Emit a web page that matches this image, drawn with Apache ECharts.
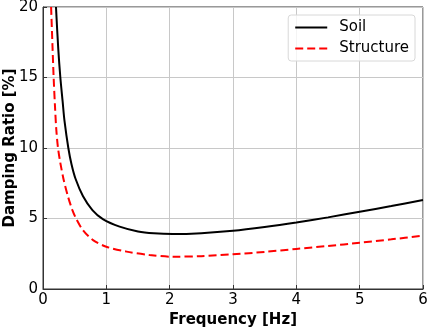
<!DOCTYPE html>
<html><head><meta charset="utf-8">
<script src="https://cdn.jsdelivr.net/npm/echarts@6/dist/echarts.min.js"></script>
<style>html,body{margin:0;padding:0;background:#fff}#c{width:429px;height:329px}</style>
</head><body><div id="c"></div>
<script>
const xTicks = [0, 1, 2, 3, 4, 5, 6];
const yTicks = [0, 5, 10, 15, 20];
const soilFreq = [0.205, 0.24, 0.274, 0.31, 0.34, 0.40, 0.45, 0.515, 0.63, 0.78, 0.945, 1.21, 1.5, 1.75, 2.05, 2.5, 3.0, 3.5, 4.0, 4.5, 5.0, 5.5, 6.0];
const soilDamp = [20.0, 17.1, 15.0, 13.3, 11.9, 10.0, 8.85, 7.8, 6.6, 5.6, 4.96, 4.42, 4.08, 3.95, 3.9, 3.96, 4.13, 4.4, 4.72, 5.08, 5.48, 5.88, 6.31];
const structFreq = [0.128, 0.15, 0.168, 0.19, 0.21, 0.237, 0.275, 0.327, 0.395, 0.464, 0.527, 0.63, 0.79, 1.0, 1.32, 1.68, 2.05, 2.5, 3.0, 3.5, 4.0, 4.5, 5.0, 5.5, 6.0];
const structDamp = [20.0, 17.2, 15.0, 12.9, 11.3, 10.0, 8.91, 7.73, 6.55, 5.6, 4.96, 4.18, 3.47, 3.0, 2.65, 2.41, 2.29, 2.33, 2.46, 2.63, 2.84, 3.05, 3.28, 3.52, 3.78];

const font = 'DejaVu Sans';
const chart = echarts.init(document.getElementById('c'), null, {renderer: 'canvas'});
const zip = (a, b) => a.map((v, i) => [v, b[i]]);
chart.setOption({
  animation: false,
  grid: {left: 43, right: 6, top: 7, bottom: 40, containLabel: false, outerBoundsMode: 'none',
         show: true, borderColor: '#333', borderWidth: 1, backgroundColor: 'transparent'},
  legend: {
    right: 14, top: 15, orient: 'vertical',
    backgroundColor: 'rgba(255,255,255,0.8)', borderColor: '#d8d8d8', borderWidth: 1, borderRadius: 3,
    padding: [5, 6, 5, 6], itemGap: 6, itemWidth: 32, itemHeight: 16,
    itemStyle: {opacity: 0},
    textStyle: {fontFamily: font, fontSize: 15, color: '#000', padding: [0, 0, 0, 7]},
    data: ['Soil', 'Structure']
  },
  xAxis: {
    type: 'value', min: xTicks[0], max: xTicks[xTicks.length - 1], interval: 1,
    name: 'Frequency [Hz]', nameLocation: 'middle', nameGap: 24, nameMoveOverlap: false,
    nameTextStyle: {fontFamily: font, fontSize: 15, fontWeight: 'bold', color: '#000'},
    axisLine: {lineStyle: {color: '#333', width: 1}},
    axisTick: {inside: true, length: 4, lineStyle: {color: '#333'}},
    axisLabel: {fontFamily: font, fontSize: 15, color: '#000', margin: 4},
    splitLine: {show: true, lineStyle: {color: '#c8c8c8', width: 1}}
  },
  yAxis: {
    type: 'value', min: yTicks[0], max: yTicks[yTicks.length - 1], interval: 5,
    name: 'Damping Ratio [%]', nameLocation: 'middle', nameGap: 25, nameMoveOverlap: false,
    nameTextStyle: {fontFamily: font, fontSize: 15, fontWeight: 'bold', color: '#000'},
    axisLine: {show: true, lineStyle: {color: '#333', width: 1}},
    axisTick: {show: true, inside: true, length: 4, lineStyle: {color: '#333'}},
    axisLabel: {fontFamily: font, fontSize: 15, color: '#000', margin: 5},
    splitLine: {show: true, lineStyle: {color: '#c8c8c8', width: 1}}
  },
  series: [
    {name: 'Soil', type: 'line', data: zip(soilFreq, soilDamp), smooth: 0.3, symbol: 'none', showSymbol: false,
     lineStyle: {color: '#000', width: 2}, itemStyle: {color: '#000'}, clip: true, z: 3},
    {name: 'Structure', type: 'line', data: zip(structFreq, structDamp), smooth: 0.3, symbol: 'none', showSymbol: false,
     lineStyle: {color: '#ff0000', width: 2, type: [8, 4]}, itemStyle: {color: '#ff0000'}, clip: true, z: 2}
  ]
});
</script></body></html>
